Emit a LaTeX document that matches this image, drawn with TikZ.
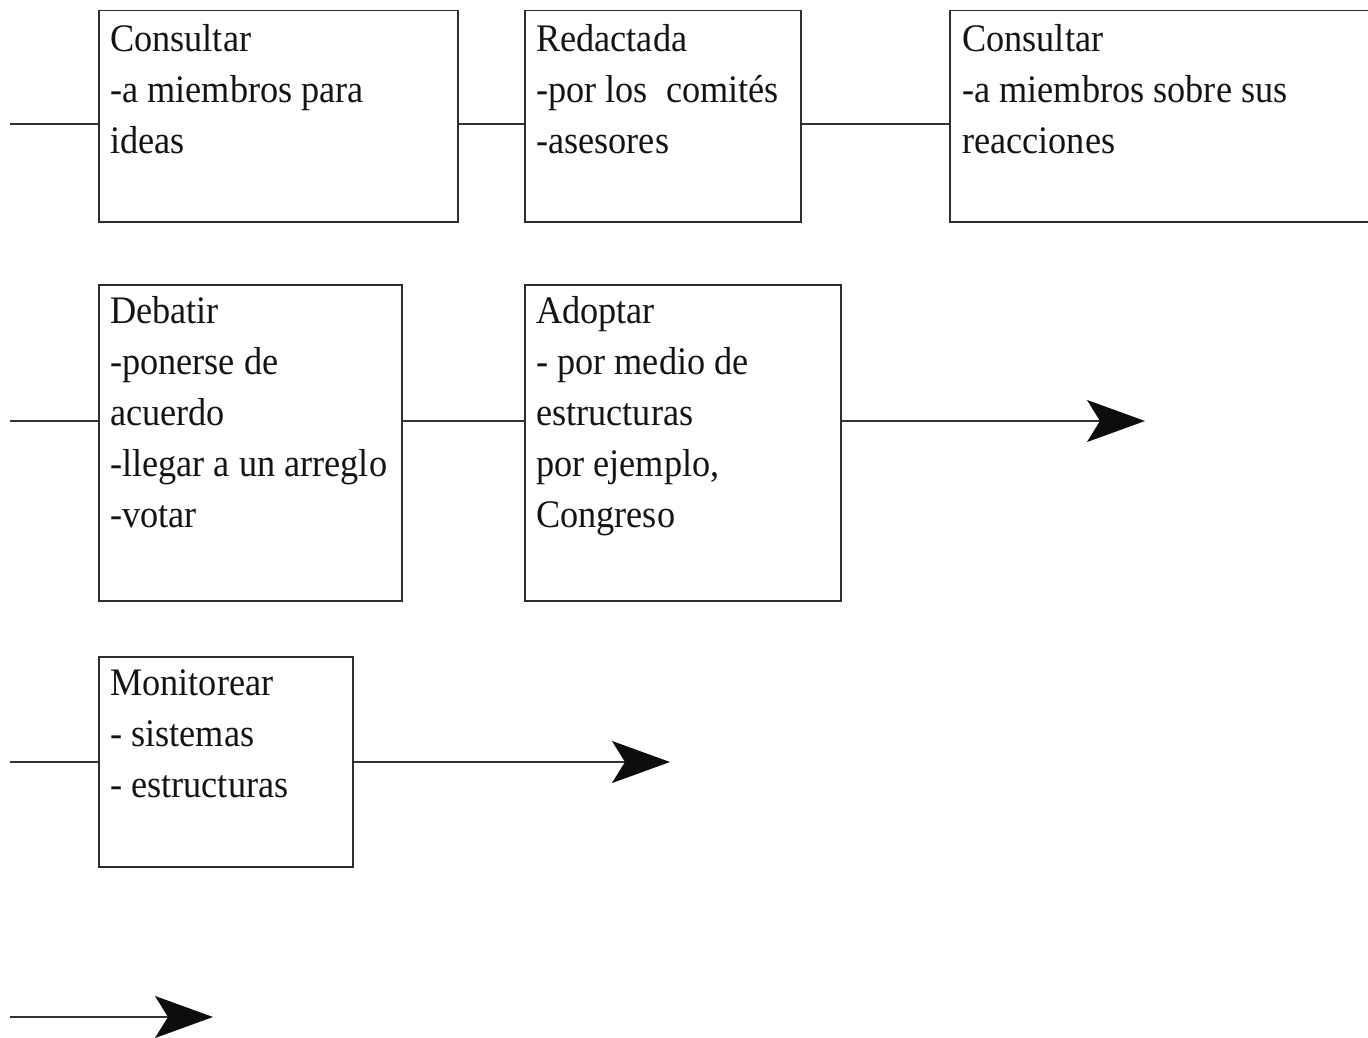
\documentclass[tikz,border=0pt]{standalone}
\usepackage{fontspec}
\setmainfont{Liberation Serif}[FakeStretch=0.93]
\usetikzlibrary{arrows.meta}
\begin{document}
\begin{tikzpicture}[x=1pt,y=-1pt,
  stepbox/.style={draw=black!82, line width=1.5pt, inner sep=0pt, anchor=north west},
  boxtext/.style={anchor=base west, inner sep=0pt, font=\fontsize{39}{51}\selectfont, text=black!92},
  conn/.style={draw=black!80, line width=1.5pt},
  arr/.style={conn, -{Stealth[length=58pt, width=42pt, inset=13pt, black!95]}}]
\useasboundingbox (0,0) rectangle (1368,1038);
% row 1
\node[stepbox, minimum width=359pt, minimum height=211pt] (b1) at (98,10) {};
\node[stepbox, minimum width=276pt, minimum height=211pt] (b2) at (524,10) {};
\node[stepbox, minimum width=440pt, minimum height=211pt] (b3) at (949,10) {};
\node[boxtext] (t1) at (110,52) {\begin{tabular}[t]{@{}l@{}}Consultar\\-a miembros para\\ideas\end{tabular}};
\node[boxtext] (t2) at (536,52) {\begin{tabular}[t]{@{}l@{}}Redactada\\-por los\ \ comités\\-asesores\end{tabular}};
\node[boxtext] (t3) at (962,52) {\begin{tabular}[t]{@{}l@{}}Consultar\\-a miembros sobre sus\\reacciones\end{tabular}};
\coordinate (s1) at (10,124);
\draw[conn] (s1) -- (s1 -| b1.west);
\draw[conn] (b1.east |- s1) -- (b2.west |- s1);
\draw[conn] (b2.east |- s1) -- (b3.west |- s1);
% row 2
\node[stepbox, minimum width=303pt, minimum height=316pt] (b4) at (98,284) {};
\node[stepbox, minimum width=316pt, minimum height=316pt] (b5) at (524,284) {};
\node[boxtext] (t4) at (110,323) {\begin{tabular}[t]{@{}l@{}}Debatir\\-ponerse de\\acuerdo\\-llegar a un arreglo\\-votar\end{tabular}};
\node[boxtext] (t5) at (536,323) {\begin{tabular}[t]{@{}l@{}}Adoptar\\- por medio de\\estructuras\\por ejemplo,\\Congreso\end{tabular}};
\coordinate (s2) at (10,421);
\coordinate (e2) at (1145,421);
\draw[conn] (s2) -- (s2 -| b4.west);
\draw[conn] (b4.east |- s2) -- (b5.west |- s2);
\draw[arr] (b5.east |- s2) -- (e2);
% row 3
\node[stepbox, minimum width=254pt, minimum height=210pt] (b6) at (98,656) {};
\node[boxtext] (t6) at (110,695) {\begin{tabular}[t]{@{}l@{}}Monitorear\\- sistemas\\- estructuras\end{tabular}};
\coordinate (s3) at (10,762);
\coordinate (e3) at (670,762);
\draw[conn] (s3) -- (s3 -| b6.west);
\draw[arr] (b6.east |- s3) -- (e3);
% row 4
\coordinate (s4) at (10,1017);
\coordinate (e4) at (213,1017);
\draw[arr] (s4) -- (e4);
\end{tikzpicture}
\end{document}
